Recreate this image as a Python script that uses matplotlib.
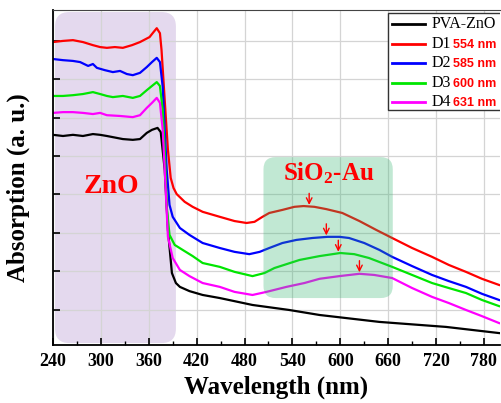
import numpy as np
import matplotlib
matplotlib.use('Agg')
import matplotlib.pyplot as plt
from matplotlib.patches import FancyBboxPatch, Rectangle
from matplotlib.lines import Line2D

plt.rcParams['font.family'] = 'Liberation Serif'
plt.rcParams['mathtext.fontset'] = 'custom'
plt.rcParams['mathtext.rm'] = 'Liberation Serif:bold'
plt.rcParams['mathtext.bf'] = 'Liberation Serif:bold'
plt.rcParams['mathtext.default'] = 'bf'

# ------------------------------------------------------------------
#   DATA (arbitrary units)
# ------------------------------------------------------------------
wl_d1 = [240, 252.5, 265, 277.5, 290, 299, 307.5, 317.5, 327.5, 339, 349, 361, 366, 370, 374,
         376, 380, 384, 387.5, 391, 395, 405, 415, 427.5, 449, 467.5, 482.5, 492.5, 502.5, 511,
         527.5, 542.5, 554, 567.5, 582.5, 602.5, 624, 645, 665, 690, 715, 736, 757.5, 777.5, 799]
abs_d1 = [6.96, 6.99, 7.01, 6.96, 6.88, 6.83, 6.81, 6.83, 6.81, 6.88, 6.96, 7.09, 7.22, 7.32, 7.19,
          6.75, 5.45, 4.16, 3.43, 3.17, 3.01, 2.81, 2.68, 2.55, 2.42, 2.31, 2.26, 2.29, 2.42, 2.52,
          2.60, 2.68, 2.70, 2.68, 2.62, 2.52, 2.31, 2.08, 1.87, 1.61, 1.38, 1.17, 0.99, 0.81, 0.65]

wl_d2 = [240, 252.5, 265, 274, 284, 290, 295, 305, 315, 324, 332.5, 340, 349, 357.5, 364, 370, 374,
         377.5, 380, 382.5, 386, 390, 399, 411, 427.5, 449, 467.5, 486, 499, 511, 527.5, 545, 565,
         584, 599, 611, 630, 649, 665, 690, 715, 736, 757.5, 777.5, 799]
abs_d2 = [6.52, 6.49, 6.47, 6.44, 6.34, 6.39, 6.29, 6.23, 6.18, 6.21, 6.13, 6.10, 6.16, 6.31, 6.44, 6.55, 6.44,
          5.79, 4.68, 3.64, 2.73, 2.42, 2.13, 1.95, 1.74, 1.61, 1.51, 1.45, 1.51, 1.61, 1.74, 1.82, 1.87,
          1.90, 1.90, 1.87, 1.74, 1.56, 1.38, 1.14, 0.91, 0.75, 0.60, 0.42, 0.26]

wl_d3 = [240, 252.5, 265, 277.5, 290, 299, 307.5, 315, 327.5, 340, 349, 357.5, 364, 370, 374,
         377.5, 380, 382.5, 386, 392.5, 402.5, 415, 427.5, 449, 467.5, 490, 505, 517.5, 532.5, 549,
         574, 600, 617.5, 636, 665, 690, 715, 736, 757.5, 777.5, 799]
abs_d3 = [5.56, 5.56, 5.58, 5.61, 5.66, 5.61, 5.56, 5.53, 5.56, 5.51, 5.56, 5.71, 5.82, 5.92, 5.82,
          5.19, 4.16, 2.68, 1.95, 1.69, 1.56, 1.40, 1.22, 1.12, 0.99, 0.88, 0.96, 1.09, 1.19, 1.30,
          1.40, 1.48, 1.45, 1.35, 1.12, 0.91, 0.70, 0.57, 0.44, 0.26, 0.10]

wl_d4 = [240, 252.5, 265, 277.5, 290, 299, 307.5, 324, 340, 349, 357.5, 364, 370, 374,
         377.5, 380, 384, 390, 399, 411, 427.5, 449, 467.5, 490, 507.5, 532.5, 555, 574, 599,
         624, 642.5, 665, 690, 715, 736, 757.5, 777.5, 799]
abs_d4 = [5.12, 5.14, 5.14, 5.12, 5.09, 5.12, 5.06, 5.04, 5.01, 5.06, 5.25, 5.38, 5.51, 5.38,
          4.68, 3.64, 1.90, 1.35, 1.04, 0.88, 0.70, 0.60, 0.47, 0.39, 0.47, 0.60, 0.70, 0.81, 0.88,
          0.94, 0.91, 0.83, 0.57, 0.34, 0.18, 0.00, -0.16, -0.34]

wl_zno = [240, 252.5, 265, 277.5, 290, 299, 307.5, 315, 327.5, 340, 349, 357.5, 364, 371, 375,
          380, 384, 389, 394, 399, 411, 427.5, 449, 490, 536, 574, 649, 732.5, 799]
abs_zno = [4.55, 4.52, 4.55, 4.52, 4.57, 4.55, 4.52, 4.49, 4.44, 4.42, 4.44, 4.60, 4.68, 4.73, 4.62,
           3.64, 2.08, 0.96, 0.70, 0.60, 0.49, 0.39, 0.31, 0.13, 0.00, -0.13, -0.31, -0.44, -0.60]

series_names = ['PVA-ZnO', 'D1', 'D2', 'D3', 'D4']
peak_labels = ['', '554 nm', '585 nm', '600 nm', '631 nm']
series_colors = ['black', '#ff0000', '#0000ff', '#00e600', '#ff00ff']

# arrows over the plasmon bands (wavelength where the arrow sits)
arrow_wl = [561, 582.5, 597.5, 624]

# ------------------------------------------------------------------
#   FIGURE
# ------------------------------------------------------------------
fig = plt.figure(figsize=(5.01, 4.03), dpi=100)
ax = fig.add_axes([0.1058, 0.1439, 0.892, 0.831])

curves = [(wl_zno, abs_zno), (wl_d1, abs_d1), (wl_d2, abs_d2), (wl_d3, abs_d3), (wl_d4, abs_d4)]

for (wl, ab), col in zip(curves, series_colors):
    ax.plot(wl, ab, color=col, linewidth=1.6, zorder=2)

# Zone ZnO (viola)
aspect = 0.0208
ax.add_patch(FancyBboxPatch((242.5, -0.86), 151.5, 8.6,
                            boxstyle='round,pad=0,rounding_size=18',
                            mutation_aspect=aspect,
                            facecolor='#e4d9ee', edgecolor='none', zorder=0.2))

# Zone SiO2-Au (verde, sopra le curve)
ax.add_patch(FancyBboxPatch((503.75, 0.31), 162, 3.66,
                            boxstyle='round,pad=0,rounding_size=15',
                            mutation_aspect=aspect,
                            facecolor='#33b56f', alpha=0.3, edgecolor='none', zorder=3))

ax.text(313.75, 3.22, 'ZnO', color='red', fontsize=20, fontweight='bold',
        ha='center', va='center', zorder=4)
ax.text(585, 3.56, 'SiO$_2$-Au', color='red', fontsize=18, fontweight='bold',
        ha='center', va='center', zorder=4)

# Frecce
for (wl, ab), xa in zip(curves[1:], arrow_wl):
    ya = np.interp(xa, wl, ab) + 0.04
    ax.annotate('', xy=(xa, ya), xytext=(xa, ya + 0.3),
                arrowprops=dict(arrowstyle='->', color='red', lw=1.0,
                                shrinkA=0, shrinkB=0), zorder=4)

# Assi
ax.set_xlim(240, 800)
ax.set_ylim(-0.91, 7.79)
ax.set_xticks(np.arange(240, 781, 60))
ax.set_xticks(np.arange(270, 800, 60), minor=True)
ax.set_yticks(np.arange(0, 8, 1))
ax.set_yticklabels([])
ax.tick_params(axis='both', which='major', direction='in', length=5, width=1.2, pad=6,
               labelsize=13)
ax.tick_params(axis='both', which='minor', direction='in', length=3, width=1.0)
for lab in ax.get_xticklabels():
    lab.set_fontweight('bold')

ax.grid(True, which='major', color='#d4d4d4', linewidth=0.9)
ax.set_axisbelow(True)

for s in ['left', 'bottom']:
    ax.spines[s].set_linewidth(1.3)
ax.spines['top'].set_color('#444444')
ax.spines['right'].set_visible(False)

ax.set_xlabel('Wavelength (nm)', fontsize=18, fontweight='bold', labelpad=4)
ax.set_ylabel('Absorption (a. u.)', fontsize=18, fontweight='bold')
ax.yaxis.set_label_coords(-0.052, 0.47)

# Legenda
ax.add_patch(Rectangle((0.749, 0.701), 0.3, 0.29, transform=ax.transAxes,
                       facecolor='white', edgecolor='#333333', linewidth=1.0, zorder=5))
rows = [0.958, 0.899, 0.842, 0.782, 0.725]
for name, num, col, yy in zip(series_names, peak_labels, series_colors, rows):
    ax.add_line(Line2D([0.758, 0.832], [yy, yy], transform=ax.transAxes,
                       color=col, linewidth=2, zorder=6))
    t = ax.text(0.848, yy, name, transform=ax.transAxes, fontsize=11.5,
                ha='left', va='center', zorder=6)
    if num:
        ax.annotate(num, xy=(1.0, 0.42), xycoords=t, xytext=(1, 0), textcoords='offset points',
                    fontsize=9, fontweight='bold', color='red', family='Liberation Sans',
                    ha='left', va='center', zorder=6)

plt.savefig('out.png', dpi=100)
